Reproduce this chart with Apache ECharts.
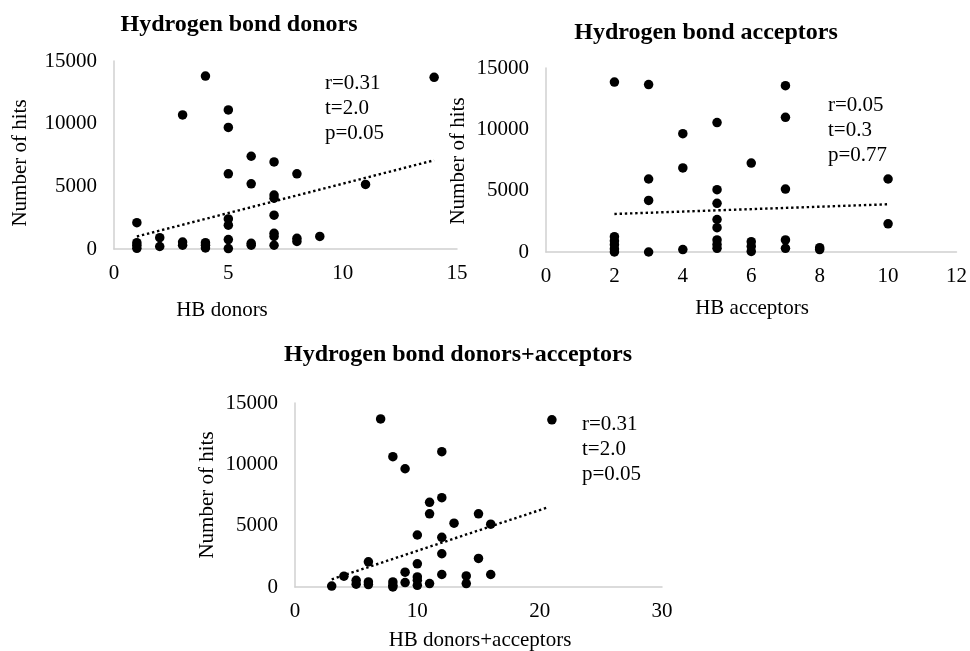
<!DOCTYPE html>
<html><head><meta charset="utf-8">
<script src="https://cdn.jsdelivr.net/npm/echarts@6/dist/echarts.min.js"></script>
<style>html,body{margin:0;padding:0;background:#fff}#c{width:970px;height:651px}</style>
</head><body><div id="c"></div>
<script>
// ---- Data ----
const donorsX    = [1,1,1,1, 2,2, 3,3,3, 4,4,4,4, 5,5,5,5,5,5,5, 6,6,6,6, 7,7,7,7,7,7,7, 8,8,8, 9, 11, 14];
const donorsHits = [2100,500,300,50, 900,200, 10700,550,300, 13800,500,300,80, 11100,9700,6000,2400,1900,750,30, 7400,5200,450,300, 6950,4300,4050,2700,1250,1000,300, 6000,850,600, 1000, 5150, 13700];
const donorsTrendX = [1, 14];
const donorsTrendY = [1000, 7080];

const accX    = [2,2,2,2,2,2, 3,3,3,3, 4,4,4, 5,5,5,5,5,5,5,5, 6,6,6,6, 7,7,7,7,7, 8,8, 10,10];
const accHits = [13850,1250,900,600,250,0, 13650,5950,4200,0, 9650,6850,200, 10550,5080,3970,2650,1980,980,620,300, 7250,840,450,50, 13560,10980,5130,980,300, 350,200, 5950,2300];
const accTrendX = [2, 10];
const accTrendY = [3100, 3890];

const totX    = [3,4,5,5,6,6,6,7,8,8,8,8,9,9,9,10,10,10,10,10,11,11,11,12,12,12,12,12,13,14,14,15,15,16,16,21];
const totHits = [80,880,550,230,2050,410,200,13700,10620,410,140,0,9640,1210,360,4240,1890,820,550,140,6900,5970,280,11030,7280,4050,2710,1020,5200,900,280,5970,2330,5120,1020,13630];
const totTrendX = [3, 20.7];
const totTrendY = [630, 6500];

const titles = ['Hydrogen bond donors', 'Hydrogen bond acceptors', 'Hydrogen bond donors+acceptors'];
const xNames = ['HB donors', 'HB acceptors', 'HB donors+acceptors'];
const yName = 'Number of hits';
const stats = [['r=0.31','t=2.0','p=0.05'], ['r=0.05','t=0.3','p=0.77'], ['r=0.31','t=2.0','p=0.05']];
const xRanges = [[0,15,5],[0,12,2],[0,30,10]];
const yRange = [0,15000,5000];

// ---- Build chart ----
const FONT = '"Liberation Serif", "Times New Roman", serif';
const pairs = (xs, ys) => xs.map((x, i) => [x, ys[i]]);
const grids = [
  {left:114, top:61, width:343, height:188},
  {left:546, top:68, width:412, height:184},
  {left:295, top:403, width:367, height:184}
];
const axisLine = {show:true, onZero:false, lineStyle:{color:'#d0d0d0', width:1.5}};
const plain = v => String(v);
const xAxes = xRanges.map((r, i) => ({
  gridIndex:i, type:'value', min:r[0], max:r[1], interval:r[2],
  axisLine, axisTick:{show:false}, splitLine:{show:false},
  axisLabel:{fontFamily:FONT, fontSize:21, color:'#000', margin:14, showMinLabel:true, showMaxLabel:true, formatter:plain}
}));
const yAxes = grids.map((g, i) => ({
  gridIndex:i, type:'value', min:yRange[0], max:yRange[1], interval:yRange[2],
  axisLine, axisTick:{show:false}, splitLine:{show:false},
  axisLabel:{fontFamily:FONT, fontSize:21, color:'#000', margin:17, showMinLabel:true, showMaxLabel:true, formatter:plain}
}));
const scatterData = [pairs(donorsX, donorsHits), pairs(accX, accHits), pairs(totX, totHits)];
const trendData = [pairs(donorsTrendX, donorsTrendY), pairs(accTrendX, accTrendY), pairs(totTrendX, totTrendY)];
const series = [];
scatterData.forEach((d, i) => {
  series.push({type:'scatter', xAxisIndex:i, yAxisIndex:i, data:d, symbolSize:9.5,
    itemStyle:{color:'#000', opacity:1}, silent:true, z:2});
  series.push({type:'line', xAxisIndex:i, yAxisIndex:i, data:trendData[i], showSymbol:false, symbol:'none',
    lineStyle:{color:'#000', width:2.4, type:[2.4,2.8]}, silent:true, z:3});
});

const titlePos = [[239,25],[706,33],[458,355]];
const yNamePos = [[20,163],[458,161],[207,495]];
const xNamePos = [[222,310],[752,308],[480,640]];
const statPos = [[325,83],[828,105],[582,424]];
const graphic = [];
for (let i = 0; i < 3; i++) {
  graphic.push({type:'text', x:titlePos[i][0], y:titlePos[i][1],
    style:{text:titles[i], font:'bold 24px ' + FONT, fill:'#000', textAlign:'center', textVerticalAlign:'middle'}});
  graphic.push({type:'text', x:yNamePos[i][0], y:yNamePos[i][1], rotation:Math.PI/2,
    style:{text:yName, font:'21px ' + FONT, fill:'#000', textAlign:'center', textVerticalAlign:'middle'}});
  graphic.push({type:'text', x:xNamePos[i][0], y:xNamePos[i][1],
    style:{text:xNames[i], font:'21px ' + FONT, fill:'#000', textAlign:'center', textVerticalAlign:'middle'}});
  stats[i].forEach((s, k) => {
    graphic.push({type:'text', x:statPos[i][0], y:statPos[i][1] + k*25,
      style:{text:s, font:'21px ' + FONT, fill:'#000', textAlign:'left', textVerticalAlign:'middle'}});
  });
}

const chart = echarts.init(document.getElementById('c'), null, {renderer:'canvas'});
chart.setOption({
  animation:false,
  backgroundColor:'#fff',
  grid:grids.map(g => Object.assign({containLabel:false}, g)),
  xAxis:xAxes, yAxis:yAxes, series, graphic
});
</script></body></html>
